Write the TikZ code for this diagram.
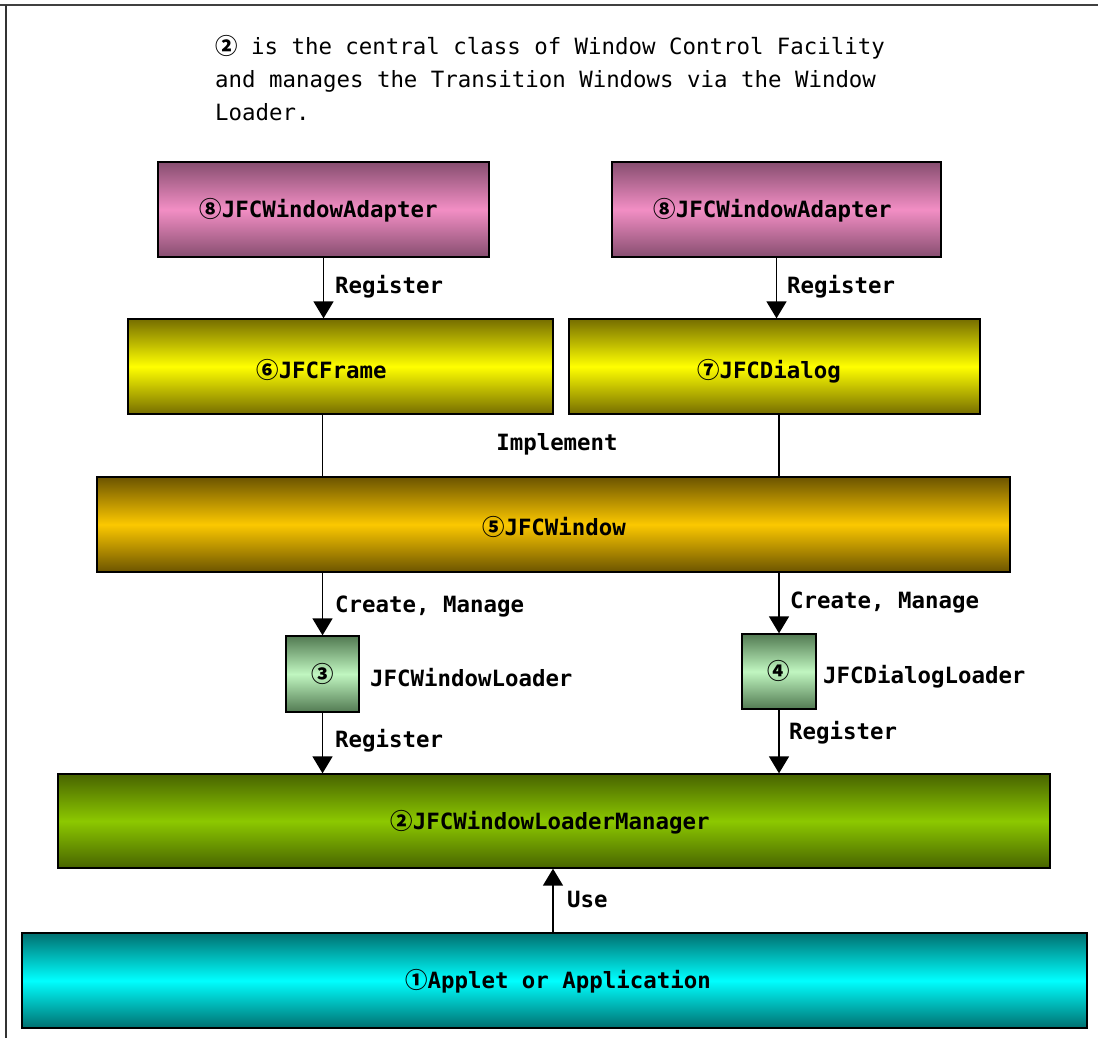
\documentclass[tikz,border=0pt]{standalone}
\usepackage{fontspec}
\setmainfont{DejaVu Sans Mono}
\newfontfamily\cnumfont{Noto Sans CJK JP}
\usetikzlibrary{arrows.meta}
\newcommand\cnum[1]{{\cnumfont\bfseries #1}}
\definecolor{pinkD}{RGB}{135,78,112}
\definecolor{pinkL}{RGB}{242,142,196}
\definecolor{yelD}{RGB}{118,110,0}
\definecolor{yelL}{RGB}{255,255,0}
\definecolor{golD}{RGB}{108,84,0}
\definecolor{golL}{RGB}{252,200,0}
\definecolor{grnD}{RGB}{82,122,82}
\definecolor{grnL}{RGB}{192,246,192}
\definecolor{oliD}{RGB}{72,100,0}
\definecolor{oliL}{RGB}{140,200,0}
\definecolor{cyaD}{RGB}{0,112,112}
\definecolor{cyaL}{RGB}{0,255,255}
\begin{document}
\begin{tikzpicture}[x=1pt,y=-1pt,
  box/.style={draw=black, line width=1.3pt, inner sep=0pt, anchor=center},
  pinkbox/.style={box, top color=pinkD, bottom color=pinkD, middle color=pinkL},
  yelbox/.style={box, top color=yelD, bottom color=yelD, middle color=yelL},
  golbox/.style={box, top color=golD, bottom color=golD, middle color=golL},
  grnbox/.style={box, top color=grnD, bottom color=grnD, middle color=grnL},
  olibox/.style={box, top color=oliD, bottom color=oliD, middle color=oliL},
  cyabox/.style={box, top color=cyaD, bottom color=cyaD, middle color=cyaL},
  lbl/.style={inner sep=0pt, font=\fontsize{22.4pt}{26pt}\selectfont\bfseries},
  toptxt/.style={inner sep=0pt, anchor=base west, font=\fontsize{22.4pt}{26pt}\selectfont},
  conn/.style={line width=1.5pt},
  arr/.style={conn, -{Triangle[width=20pt,length=17pt]}}
]
\useasboundingbox (0,0) rectangle (1098,1038);
% frame lines
\draw[line width=2.5pt, black!75] (0,5) -- (1098,5);
\draw[line width=2pt, black!80] (6,5) -- (6,1038);

% top text
\node[toptxt] (t1) at (215,55) {\cnum{②} is the central class of Window Control Facility};
\node[toptxt] (t2) at (215,88) {and manages the Transition Windows via the Window};
\node[toptxt] (t3) at (215,121) {Loader.};

% boxes
\node[pinkbox, minimum width=331pt, minimum height=95pt] (adL) at (323.5,209.5) {};
\node[pinkbox, minimum width=329pt, minimum height=95pt] (adR) at (776.5,209.5) {};
\node[yelbox, minimum width=425pt, minimum height=95pt] (frame) at (340.5,366.5) {};
\node[yelbox, minimum width=411pt, minimum height=95pt] (dialog) at (774.5,366.5) {};
\node[golbox, minimum width=913pt, minimum height=95pt] (window) at (553.5,524.5) {};
\node[grnbox, minimum width=73pt, minimum height=76pt] (ld3) at (322.5,674) {};
\node[grnbox, minimum width=74pt, minimum height=75pt] (ld4) at (779,671.5) {};
\node[olibox, minimum width=992pt, minimum height=94pt] (mgr) at (554,821) {};
\node[cyabox, minimum width=1065pt, minimum height=95pt] (app) at (554.5,980.5) {};

% box texts
\node[lbl, anchor=base] (adLt) at (318.5,217) {\cnum{⑧}JFCWindowAdapter};
\node[lbl, anchor=base] (adRt) at (772.5,217) {\cnum{⑧}JFCWindowAdapter};
\node[lbl, anchor=base] (framet) at (321.5,378) {\cnum{⑥}JFCFrame};
\node[lbl, anchor=base] (dialogt) at (769,378) {\cnum{⑦}JFCDialog};
\node[lbl, anchor=base] (windowt) at (554,535) {\cnum{⑤}JFCWindow};
\node[lbl, anchor=base] (ld3t) at (322.5,682) {\cnum{③}};
\node[lbl, anchor=base] (ld4t) at (779,679) {\cnum{④}};
\node[lbl, anchor=base] (mgrt) at (550,829) {\cnum{②}JFCWindowLoaderManager};
\node[lbl, anchor=base] (appt) at (558,988) {\cnum{①}Applet or Application};
\node[lbl, anchor=base west] (ld3n) at (370,686) {JFCWindowLoader};
\node[lbl, anchor=base west] (ld4n) at (823,683) {JFCDialogLoader};

% connectors
\draw[arr] (adL.south) -- (adL.south |- frame.north);
\draw[arr] (adR.south) -- (adR.south |- dialog.north);
\draw[conn] (frame.south -| ld3) -- (window.north -| ld3);
\draw[conn] (dialog.south -| ld4) -- (window.north -| ld4);
\draw[arr] (window.south -| ld3) -- (ld3.north);
\draw[arr] (window.south -| ld4) -- (ld4.north);
\draw[arr] (ld3.south) -- (ld3.south |- mgr.north);
\draw[arr] (ld4.south) -- (ld4.south |- mgr.north);
\draw[arr] (app.north -| mgrt) ++(3,0) coordinate (useS) (useS) -- (useS |- mgr.south);

% connector labels
\node[lbl, anchor=base west] (r1) at (335,293) {Register};
\node[lbl, anchor=base west] (r2) at (787,293) {Register};
\node[lbl, anchor=base] (impl) at (557,450) {Implement};
\node[lbl, anchor=base west] (c1) at (335,612) {Create, Manage};
\node[lbl, anchor=base west] (c2) at (790,608) {Create, Manage};
\node[lbl, anchor=base west] (r3) at (335,747) {Register};
\node[lbl, anchor=base west] (r4) at (789,739) {Register};
\node[lbl, anchor=base west] (use) at (567,907) {Use};
\end{tikzpicture}
\end{document}
